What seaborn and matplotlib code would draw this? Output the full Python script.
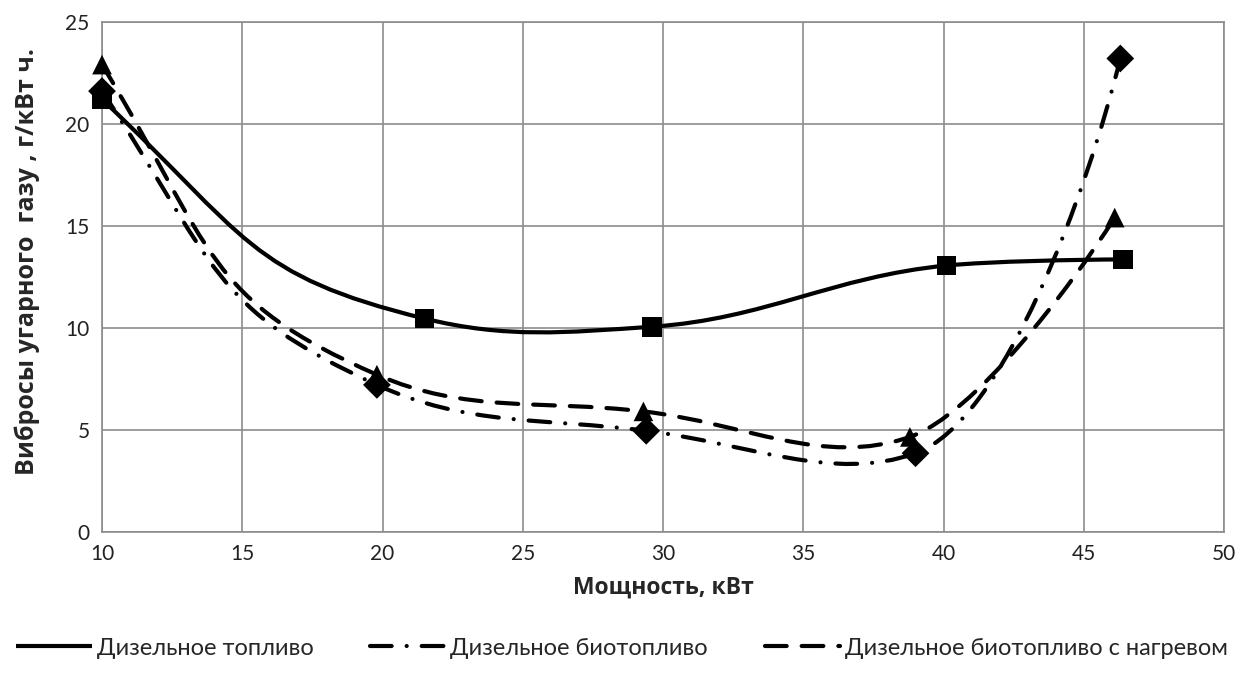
import seaborn as sns
import matplotlib.pyplot as plt
import numpy as np
import pandas as pd
from matplotlib.path import Path
from matplotlib.patches import PathPatch
from matplotlib.lines import Line2D

# values
power_diesel = [10.0, 21.5, 29.6, 40.1, 46.4]
co_diesel = [21.2, 10.45, 10.05, 13.05, 13.35]
power_bio = [10.0, 19.8, 29.4, 39.0, 46.3]
co_bio = [21.6, 7.2, 4.95, 3.85, 23.2]
power_bio_heat = [10.0, 19.8, 29.3, 38.8, 46.1]
co_bio_heat = [22.9, 7.7, 5.9, 4.65, 15.4]

labels = ["Дизельное топливо", "Дизельное биотопливо", "Дизельное биотопливо с нагревом"]
x_ticks = [10, 15, 20, 25, 30, 35, 40, 45, 50]
y_ticks = [0, 5, 10, 15, 20, 25]

sns.set_theme(style="white")
plt.rcParams['font.family'] = ['Lato', 'DejaVu Sans']

df = pd.concat([
    pd.DataFrame({"x": power_diesel, "y": co_diesel, "s": labels[0]}),
    pd.DataFrame({"x": power_bio, "y": co_bio, "s": labels[1]}),
    pd.DataFrame({"x": power_bio_heat, "y": co_bio_heat, "s": labels[2]}),
])

fig = plt.figure(figsize=(12.44, 6.8), dpi=100)
ax = fig.add_axes([0.082, 0.218, 0.902, 0.750])
ax.set_xlim(10, 50)
ax.set_ylim(0, 25)

# tension of each curve piece (first, middle..., last)
tension = [1.45, 1.15, 1.15, 0.75]


def smooth_path(xs, ys):
    # smoothed line like excel: chord-length catmull-rom in screen space
    P = ax.transData.transform(np.column_stack([xs, ys]))
    n = len(P)
    d = np.linalg.norm(np.diff(P, axis=0), axis=1)
    m = np.zeros_like(P)
    for i in range(1, n - 1):
        u0 = (P[i] - P[i - 1]) / d[i - 1]
        u1 = (P[i + 1] - P[i]) / d[i]
        m[i] = (u0 * d[i] + u1 * d[i - 1]) / (d[i - 1] + d[i])
    m[0] = (3 * (P[1] - P[0]) / d[0] - m[1]) / 2
    m[-1] = (3 * (P[-1] - P[-2]) / d[-1] - m[-2]) / 2
    verts = [P[0]]
    codes = [Path.MOVETO]
    for i in range(n - 1):
        k = tension[i]
        verts += [P[i] + k * m[i] * d[i] / 3,
                  P[i + 1] - k * m[i + 1] * d[i] / 3, P[i + 1]]
        codes += [Path.CURVE4] * 3
    verts = ax.transData.inverted().transform(np.array(verts))
    return Path(verts, codes)


styles = {
    labels[0]: "-",
    labels[1]: (0, (5.2, 3.6, 0.01, 3.6)),
    labels[2]: (0, (5.2, 3.6)),
}
lw = 3.0
for lab, xs, ys in [(labels[0], power_diesel, co_diesel),
                    (labels[1], power_bio, co_bio),
                    (labels[2], power_bio_heat, co_bio_heat)]:
    patch = PathPatch(smooth_path(xs, ys), fill=False, edgecolor="black",
                      lw=lw, linestyle=styles[lab], capstyle="round",
                      joinstyle="round", zorder=3)
    ax.add_patch(patch)

sns.scatterplot(data=df, x="x", y="y", style="s", hue="s",
                palette=["black"] * 3,
                markers={labels[0]: "s", labels[1]: "D", labels[2]: "^"},
                s=200, edgecolor="black", linewidth=0,
                legend=False, ax=ax, zorder=4)
for coll in ax.collections:
    coll.set_clip_on(False)

ax.set_xticks(x_ticks)
ax.set_yticks(y_ticks)
ax.grid(True, color="#8c8c8c", lw=1.2)
for sp in ax.spines.values():
    sp.set_color("#8c8c8c")
    sp.set_linewidth(1.2)
ax.tick_params(axis="both", labelsize=15, length=0, pad=9, colors="#222222")
ax.set_xlabel("Мощность, кВт", fontsize=16.5, fontweight="bold", labelpad=8,
              family=["Open Sans", "DejaVu Sans"])
ax.set_ylabel("Вибросы угарного  газу , г/кВт ч.", fontsize=18,
              fontweight="bold", labelpad=8, family=["Open Sans", "DejaVu Sans"])
ax.yaxis.set_label_coords(-0.055, 0.53)

handles = [Line2D([], [], color="black", lw=lw, linestyle=styles[l],
                  dash_capstyle="round", solid_capstyle="butt") for l in labels]
fig.legend(handles, labels, loc="lower center", bbox_to_anchor=(0.5, 0.0),
           ncol=3, frameon=False, handlelength=3.2,
           handletextpad=0.2, columnspacing=2.4,
           prop={"family": ["Lato", "DejaVu Sans"], "size": 17})

fig.savefig("out.png", dpi=100)
